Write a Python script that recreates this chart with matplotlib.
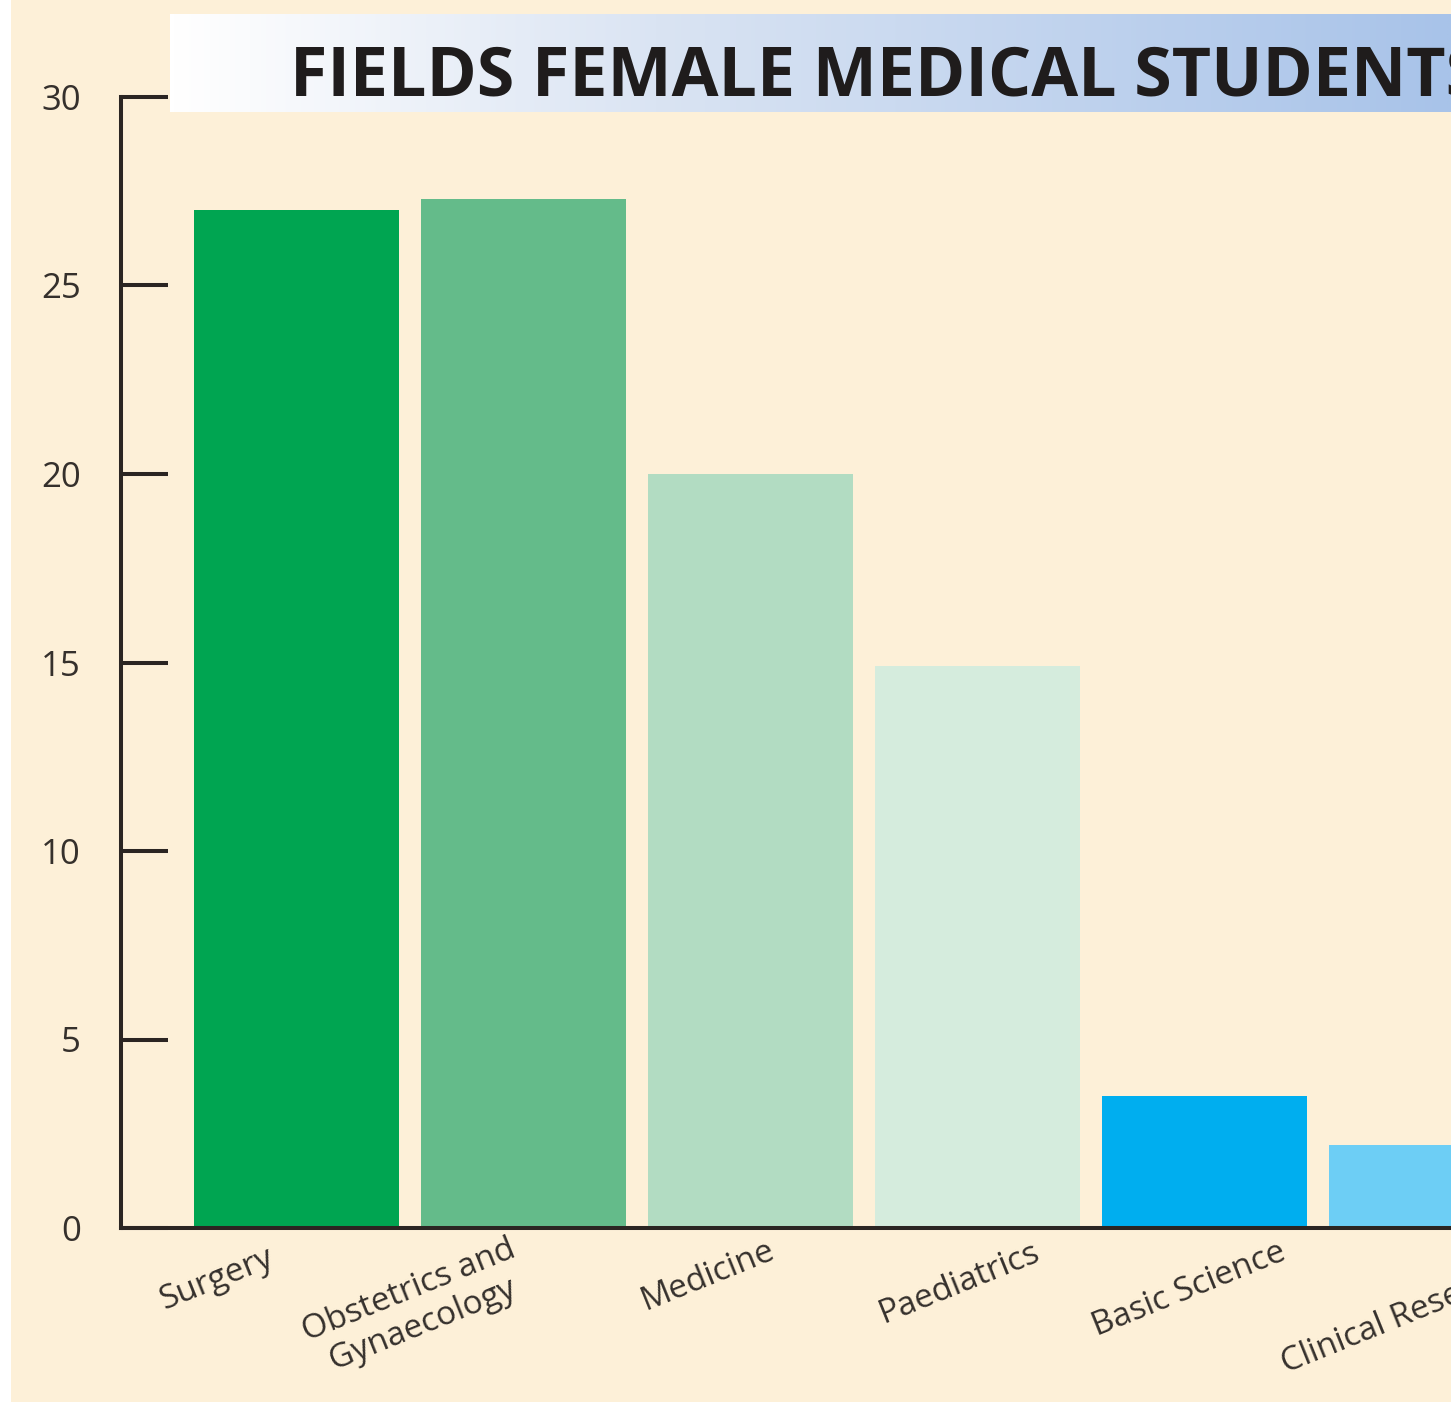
import numpy as np
import matplotlib
matplotlib.use("Agg")
import matplotlib.pyplot as plt
from matplotlib.colors import LinearSegmentedColormap
from matplotlib.patches import Rectangle
from matplotlib import transforms

# ---- data --------------------------------------------------------------------
fields = ["Surgery", "Obstetrics and\nGynaecology", "Medicine", "Paediatrics",
          "Basic Science", "Clinical Research"]
percent = [27.0, 27.3, 20.0, 14.9, 3.5, 2.2]
bar_colors = ["#00a551", "#64bb8a", "#b2dcc2", "#d5ecdd", "#00aeef", "#6dcef5"]
yticks = [0, 5, 10, 15, 20, 25, 30]
title = "FIELDS FEMALE MEDICAL STUDENTS"

# hand-placed label nudges (px): dx from bar centre, dy below axis line
label_dx = [-80, -108, -43, -18, -16, -28]
label_dy = [13, 5, 6, 8, 8, 24]

CREAM = "#fdf0d8"
INK = "#2b2522"
W, H = 1451, 1405

fig = plt.figure(figsize=(W / 100, H / 100), dpi=100, facecolor="white")
fig.patches.append(Rectangle((11 / W, 3 / H), 1, 1, transform=fig.transFigure,
                             facecolor=CREAM, edgecolor="none", zorder=-10))

# title banner: white -> pale blue gradient
bx0, by0, by1 = 170, 14, 112
ax_b = fig.add_axes([bx0 / W, 1 - by1 / H, (W - bx0) / W, (by1 - by0) / H])
grad = LinearSegmentedColormap.from_list(
    "banner", [(0, "#ffffff"), (0.06, "#fafbfd"), (0.38, "#dae4f3"), (1, "#a8c3e9")])
ax_b.imshow(np.linspace(0, 1, 512)[None, :], cmap=grad, aspect="auto",
            extent=(0, 1, 0, 1))
ax_b.set_axis_off()
fig.text(290 / W, 1 - 95 / H, title, fontsize=49, fontweight="bold",
         family=["Open Sans", "DejaVu Sans"], color="#1f1c1c",
         ha="left", va="baseline", zorder=5)

# main axes: left spine at x=121, 0 at y=1228, 30 at y=97
x0, y0, y30 = 121, 1228, 97
ax = fig.add_axes([x0 / W, 1 - y0 / H, (W - x0) / W, (y0 - y30) / H])
ax.patch.set_visible(False)

x = np.arange(len(fields))
ax.bar(x, percent, width=0.903, color=bar_colors, edgecolor="none", zorder=1)

ax.set_xlim(-0.775, -0.775 + (W - x0) / 227)
ax.set_ylim(0, 30)
for side in ("top", "right"):
    ax.spines[side].set_visible(False)
for side in ("left", "bottom"):
    ax.spines[side].set_linewidth(2.9)
    ax.spines[side].set_color(INK)
    ax.spines[side].set_zorder(3)

ax.set_yticks(yticks)
ax.set_yticklabels([str(v) for v in yticks], fontsize=25,
                   family=["Open Sans", "DejaVu Sans"], color="#35302c")
ax.tick_params(axis="y", direction="in", length=34, width=2.9, color=INK,
               pad=29)
ax.set_xticks([])

base = transforms.blended_transform_factory(ax.transData, ax.transAxes)
for i, name in enumerate(fields):
    off = transforms.ScaledTranslation(label_dx[i] / 100, -label_dy[i] / 100,
                                       fig.dpi_scale_trans)
    ax.text(x[i], 0, name, transform=base + off, rotation=22,
            ha="center", va="top", multialignment="center",
            fontsize=24, family=["Open Sans", "DejaVu Sans"], color="#35302c",
            linespacing=1.15, clip_on=False)

fig.savefig("out.png", dpi=100, facecolor=fig.get_facecolor())
